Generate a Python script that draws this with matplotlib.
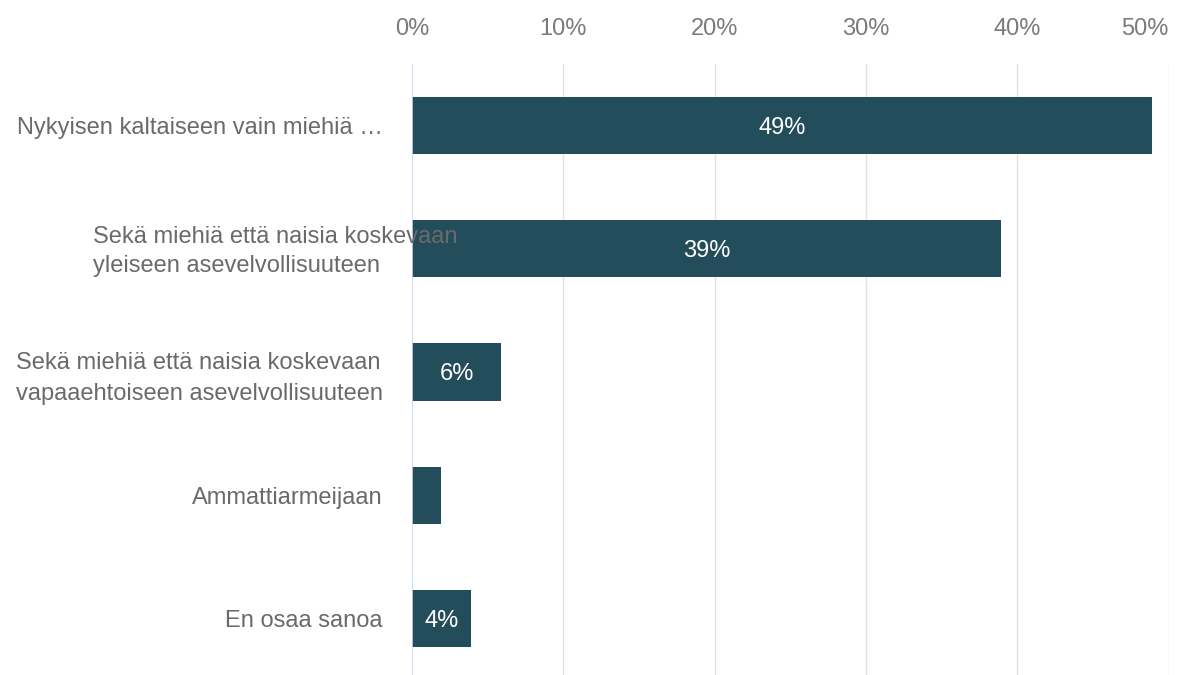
import matplotlib
matplotlib.use("Agg")
import matplotlib.pyplot as plt
from matplotlib.ticker import FuncFormatter

categories = [
    "Nykyisen kaltaiseen vain miehiä …",
    "Sekä miehiä että naisia koskevaan\nyleiseen asevelvollisuuteen",
    "Sekä miehiä että naisia koskevaan\nvapaaehtoiseen asevelvollisuuteen",
    "Ammattiarmeijaan",
    "En osaa sanoa",
]
values = [48.9, 38.9, 5.9, 1.9, 3.9]
value_labels = ["49%", "39%", "6%", "", "4%"]
xticks = [0, 10, 20, 30, 40, 50]

plt.rcParams['font.family'] = ['Liberation Sans', 'DejaVu Sans']

W, H, DPI = 1180, 675, 100
FS = 17
fig = plt.figure(figsize=(W / DPI, H / DPI), dpi=DPI)
x0, x1 = 412, 1168.5
ytop, ybot = 64, 680
ax = fig.add_axes([x0 / W, 1 - ybot / H, (x1 - x0) / W, (ybot - ytop) / H])

ypos = list(range(len(categories)))
bar_color = "#234d5a"
ax.barh(ypos, values, height=0.465, color=bar_color, zorder=3)
ax.set_ylim(len(categories) - 0.5, -0.5)
ax.set_xlim(0, 50)

for y, v, lab in zip(ypos, values, value_labels):
    if lab:
        ax.text(v / 2, y + 0.02, lab, ha='center', va='center', color='white',
                fontsize=FS, zorder=4)

# x axis on top
ax.xaxis.tick_top()
ax.set_xticks(xticks)
ax.xaxis.set_major_formatter(FuncFormatter(lambda v, p: f"{int(v)}%"))
ax.tick_params(axis='x', length=0, pad=17, labelsize=FS, labelcolor='#7a7a7a')
ticklabels = ax.get_xticklabels()
ticklabels[-1].set_horizontalalignment('right')

for xt in xticks[1:]:
    ax.axvline(xt, color='#e3e3e3', lw=1, zorder=1)
ax.axvline(0, color='#c9d5ee', lw=1.2, zorder=5)

# y labels
ax.set_yticks(ypos)
ax.set_yticklabels(["" if i == 1 else c for i, c in enumerate(categories)])
ax.tick_params(axis='y', length=0, pad=21, labelsize=FS, labelcolor='#6a6a6a')
for t in ax.get_yticklabels():
    t.set_multialignment('left')
    t.set_linespacing(1.5)

# second label drawn as in the original (left-aligned block overflowing into the bar)
ax.annotate(categories[1], xy=(0, 1), xycoords=('data', 'data'),
            xytext=(-(412 - 93) * 72 / DPI, -2), textcoords='offset points',
            ha='left', va='center', fontsize=FS, color='#6a6a6a',
            multialignment='left', linespacing=1.45, zorder=6,
            annotation_clip=False)

for s in ax.spines.values():
    s.set_visible(False)

fig.savefig("out.png", dpi=DPI)
